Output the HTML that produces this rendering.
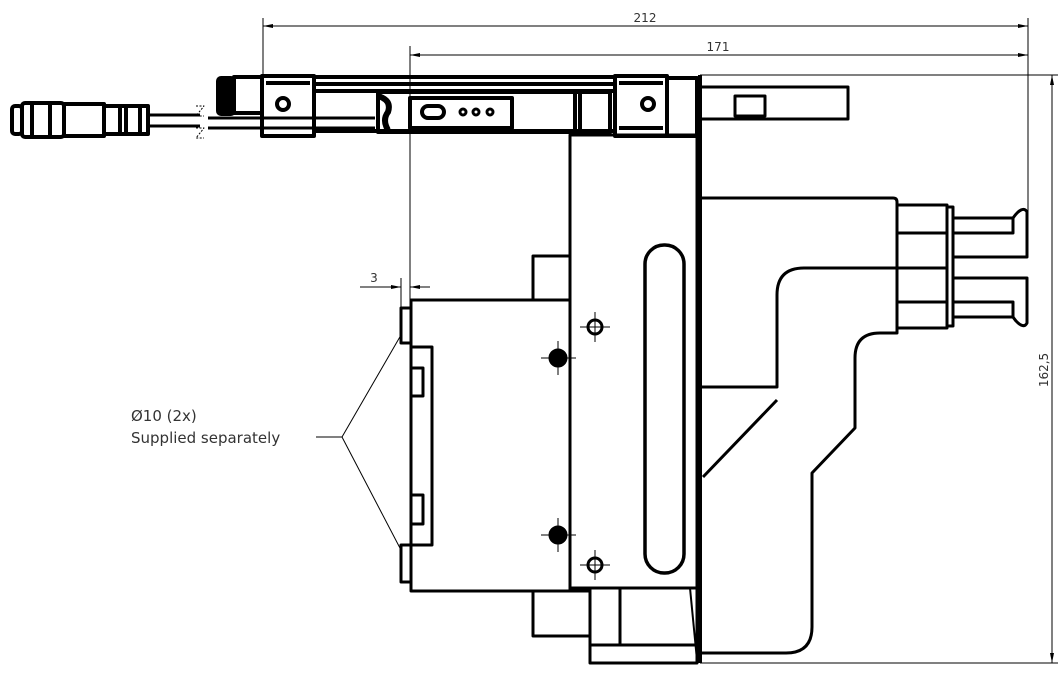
<!DOCTYPE html>
<html><head><meta charset="utf-8"><style>
html,body{margin:0;padding:0;background:#fff;}
svg{display:block;}
text{font-family:"DejaVu Sans","Liberation Sans",sans-serif;fill:#333;}
</style></head><body>
<svg width="1058" height="682" viewBox="0 0 1058 682" xmlns="http://www.w3.org/2000/svg">
<g fill="none" stroke="#000" stroke-width="3" stroke-linejoin="round">
<!-- connector -->
<g stroke-width="4">
<rect x="12" y="106" width="10" height="28" rx="3"/>
<rect x="22" y="103" width="42" height="34" rx="3"/>
<line x1="32" y1="104" x2="32" y2="136"/><line x1="50" y1="104" x2="50" y2="136"/>
<rect x="64" y="104" width="40" height="32"/>
<rect x="104" y="106" width="44" height="28"/>
<line x1="120" y1="107" x2="120" y2="133"/><line x1="126" y1="107" x2="126" y2="133"/><line x1="140" y1="107" x2="140" y2="133"/>
</g>
<line x1="148" y1="115" x2="200" y2="115" stroke-width="3"/><line x1="148" y1="126" x2="200" y2="126" stroke-width="3"/>
<line x1="208" y1="118" x2="375" y2="118" stroke-width="3"/><line x1="208" y1="128" x2="375" y2="128" stroke-width="3"/>
<g stroke-width="1" stroke-dasharray="2 1.5">
<path d="M196 106 l8 0 l-8 10 l8 0"/><path d="M196 128 l8 0 l-8 10 l8 0"/>
</g>
<!-- rail -->
<g stroke-width="4">
<rect x="218" y="78" width="16" height="36" rx="3" fill="#000"/>
<rect x="234" y="77" width="28" height="36"/>
<rect x="262" y="76" width="52" height="60"/>
<line x1="266" y1="83" x2="310" y2="83"/>
<line x1="314" y1="77" x2="615" y2="77"/><line x1="314" y1="84" x2="615" y2="84"/><line x1="314" y1="91" x2="615" y2="91"/>
<line x1="314" y1="131" x2="615" y2="131"/>
<rect x="378" y="92" width="232" height="40"/>
<rect x="410" y="98" width="102" height="30"/>
<line x1="575" y1="92" x2="575" y2="132"/><line x1="580" y1="92" x2="580" y2="132"/>
<rect x="615" y="76" width="52" height="60"/>
<line x1="619" y1="83" x2="663" y2="83"/><line x1="619" y1="128" x2="663" y2="128"/>
<rect x="667" y="78" width="30" height="58"/>
</g>
<circle cx="283" cy="104" r="6" stroke-width="4"/>
<circle cx="648" cy="104" r="6" stroke-width="4"/>
<path d="M378 96 q14 4 10 16 q-6 8 0 18" stroke-width="6"/>
<rect x="422" y="106" width="22" height="12" rx="6" stroke-width="4"/>
<circle cx="463" cy="112" r="3"/><circle cx="476" cy="112" r="3"/><circle cx="490" cy="112" r="3"/>
<!-- right top tab -->
<rect x="697" y="87" width="151" height="32"/>
<rect x="735" y="96" width="30" height="20"/>
<!-- central plate -->
<rect x="570" y="135" width="127" height="453"/>
<rect x="645" y="245" width="39" height="328" rx="19" stroke-width="3.5"/>
<!-- main block -->
<rect x="533" y="256" width="37" height="44"/>
<rect x="411" y="300" width="159" height="291"/>
<rect x="401" y="308" width="10" height="35"/>
<rect x="401" y="545" width="10" height="37"/>
<rect x="411" y="347" width="21" height="198"/>
<rect x="411" y="368" width="12" height="28"/>
<rect x="411" y="495" width="12" height="29"/>
<rect x="533" y="591" width="57" height="45"/>
<rect x="590" y="588" width="107" height="75"/>
<line x1="620" y1="588" x2="620" y2="645"/>
<line x1="590" y1="645" x2="695" y2="645"/>
<line x1="690" y1="588" x2="697" y2="660" stroke-width="2"/>
<!-- right body -->
<line x1="700" y1="75" x2="700" y2="663" stroke-width="4"/>
<path d="M700 198 H893 q4 0 4 4 V333 H880 q-25 0 -25 25 V428 L812 473 V627 q0 26 -26 26 H700"/>
<path d="M700 387 H777 V295 q0 -27 27 -27 H897"/>
<line x1="777" y1="400" x2="703" y2="477"/>
<rect x="897" y="205" width="50" height="123"/>
<line x1="897" y1="233" x2="947" y2="233"/><line x1="897" y1="268" x2="947" y2="268"/><line x1="897" y1="302" x2="947" y2="302"/>
<rect x="947" y="207" width="6" height="119"/>
<path d="M953 218 H1013 V233 H953"/><path d="M953 257 H1027 V212 q-2 -4 -6 -2 q-4 2 -8 8"/>
<path d="M953 302 H1013 V317 H953"/><path d="M953 278 H1027 V323 q-2 4 -6 2 q-4 -2 -8 -8"/>
<!-- holes -->
<circle cx="595" cy="327" r="7"/><circle cx="595" cy="565" r="7"/>
<circle cx="558" cy="358" r="8" fill="#000"/><circle cx="558" cy="535" r="8" fill="#000"/>
</g>
<g stroke="#000" stroke-width="1" fill="none">
<line x1="580" y1="327" x2="610" y2="327"/><line x1="595" y1="312" x2="595" y2="342"/>
<line x1="580" y1="565" x2="610" y2="565"/><line x1="595" y1="550" x2="595" y2="580"/>
<line x1="541" y1="358" x2="576" y2="358"/><line x1="558" y1="341" x2="558" y2="375"/>
<line x1="541" y1="535" x2="576" y2="535"/><line x1="558" y1="518" x2="558" y2="552"/>
<!-- dims -->
<line x1="263" y1="18" x2="263" y2="76"/><line x1="1028" y1="18" x2="1028" y2="215"/>
<line x1="263" y1="26" x2="1028" y2="26"/>
<line x1="410" y1="46" x2="410" y2="300"/>
<line x1="410" y1="55" x2="1028" y2="55"/>
<line x1="700" y1="75" x2="1058" y2="75"/><line x1="700" y1="663" x2="1058" y2="663"/>
<line x1="1052" y1="75" x2="1052" y2="663"/>
<line x1="401" y1="278" x2="401" y2="308"/>
<line x1="360" y1="287" x2="401" y2="287"/><line x1="410" y1="287" x2="430" y2="287"/>
<line x1="316" y1="437" x2="342" y2="437"/>
<line x1="342" y1="437" x2="401" y2="335"/><line x1="342" y1="437" x2="401" y2="550"/>
</g>
<g fill="#000">
<path d="M263 26 l10 -2 v4z"/><path d="M1028 26 l-10 -2 v4z"/>
<path d="M410 55 l10 -2 v4z"/><path d="M1028 55 l-10 -2 v4z"/>
<path d="M1052 75 l-2 10 h4z"/><path d="M1052 663 l-2 -10 h4z"/>
<path d="M401 287 l-10 -2 v4z"/><path d="M410 287 l10 -2 v4z"/>
</g>
<text x="645" y="22" font-size="12" text-anchor="middle">212</text>
<text x="718" y="51" font-size="12" text-anchor="middle">171</text>
<text x="374" y="282" font-size="12" text-anchor="middle">3</text>
<text x="131" y="421" font-size="15">Ø10 (2x)</text>
<text x="131" y="443" font-size="15">Supplied separately</text>
<text transform="translate(1048 370) rotate(-90)" font-size="12" text-anchor="middle">162,5</text>
</svg>
</body></html>
